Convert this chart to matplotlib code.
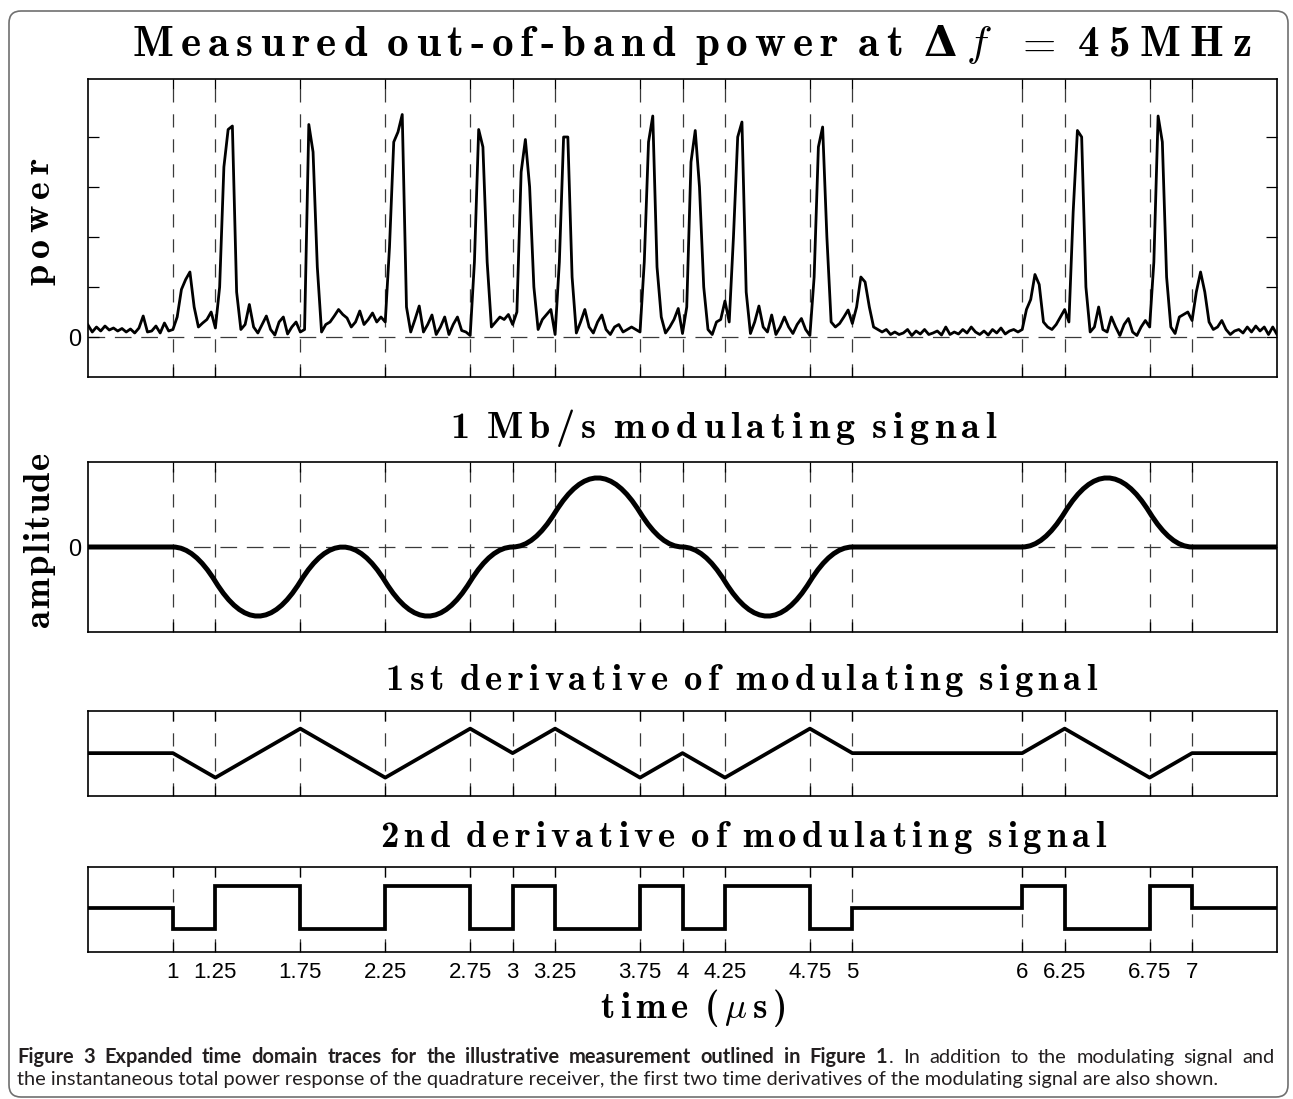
import numpy as np
import matplotlib
matplotlib.use('Agg')
import matplotlib.pyplot as plt
from matplotlib.path import Path
from matplotlib.patches import PathPatch, FancyBboxPatch

plt.rcParams['font.family'] = ['Liberation Sans', 'DejaVu Sans']
plt.rcParams['mathtext.fontset'] = 'cm'
plt.rcParams['lines.scale_dashes'] = False

W, H = 1293, 1099

# measured out-of-band power, sampled every 0.025 us from 0.5 to 7.5 us
t_start, t_step = 0.5, 0.025
power = [
    0.24, 0.10, 0.20, 0.12, 0.22, 0.14, 0.18, 0.12, 0.17, 0.10,   # 0.50
    0.16, 0.08, 0.18, 0.42, 0.10, 0.12, 0.22, 0.08, 0.28, 0.12,   # 0.75
    0.15, 0.40, 0.95, 1.15, 1.30, 0.60, 0.20, 0.28, 0.35, 0.50,   # 1.00
    0.18, 1.00, 3.40, 4.15, 4.22, 0.90, 0.15, 0.25, 0.65, 0.20,   # 1.25
    0.08, 0.25, 0.42, 0.15, 0.04, 0.30, 0.40, 0.06, 0.20, 0.30,   # 1.50
    0.10, 0.15, 4.25, 3.70, 1.40, 0.10, 0.25, 0.30, 0.42, 0.55,   # 1.75
    0.45, 0.38, 0.20, 0.30, 0.52, 0.25, 0.35, 0.48, 0.30, 0.40,   # 2.00
    0.30, 1.80, 3.90, 4.10, 4.45, 0.60, 0.10, 0.35, 0.62, 0.10,   # 2.25
    0.25, 0.44, 0.05, 0.20, 0.40, 0.05, 0.25, 0.40, 0.13, 0.10,   # 2.50
    0.03, 1.50, 4.15, 3.80, 1.50, 0.20, 0.30, 0.40, 0.35, 0.45,   # 2.75
    0.25, 0.50, 3.30, 3.95, 3.00, 1.00, 0.15, 0.35, 0.45, 0.55,   # 3.00
    0.05, 1.50, 4.00, 4.00, 1.20, 0.08, 0.30, 0.55, 0.20, 0.08,   # 3.25
    0.30, 0.44, 0.15, 0.05, 0.20, 0.25, 0.10, 0.15, 0.20, 0.15,   # 3.50
    0.10, 1.50, 3.90, 4.42, 1.40, 0.40, 0.08, 0.20, 0.35, 0.57,   # 3.75
    0.07, 0.60, 3.50, 4.13, 3.00, 1.00, 0.15, 0.05, 0.30, 0.35,   # 4.00
    0.72, 0.30, 2.00, 4.00, 4.30, 0.90, 0.07, 0.30, 0.62, 0.20,   # 4.25
    0.10, 0.44, 0.05, 0.20, 0.40, 0.20, 0.07, 0.25, 0.37, 0.15,   # 4.50
    0.03, 1.20, 3.80, 4.20, 2.00, 0.30, 0.20, 0.27, 0.40, 0.54,   # 4.75
    0.27, 0.60, 1.20, 1.10, 0.60, 0.20, 0.15, 0.10, 0.15, 0.05,   # 5.00
    0.10, 0.05, 0.08, 0.15, 0.03, 0.12, 0.06, 0.15, 0.05, 0.08,   # 5.25
    0.12, 0.04, 0.20, 0.05, 0.10, 0.06, 0.15, 0.08, 0.20, 0.10,   # 5.50
    0.05, 0.12, 0.04, 0.15, 0.08, 0.18, 0.06, 0.12, 0.15, 0.10,   # 5.75
    0.15, 0.55, 0.75, 1.25, 1.05, 0.30, 0.20, 0.15, 0.25, 0.40,   # 6.00
    0.55, 0.30, 2.50, 4.13, 4.00, 1.00, 0.10, 0.20, 0.60, 0.15,   # 6.25
    0.10, 0.40, 0.20, 0.03, 0.25, 0.37, 0.10, 0.03, 0.20, 0.33,   # 6.50
    0.20, 1.50, 4.42, 3.90, 1.20, 0.20, 0.07, 0.40, 0.45, 0.50,   # 6.75
    0.33, 0.90, 1.30, 0.90, 0.30, 0.15, 0.20, 0.33, 0.15, 0.05,   # 7.00
    0.12, 0.15, 0.08, 0.20, 0.10, 0.22, 0.12, 0.20, 0.05, 0.20, 0.05,  # 7.25
]

# modulating signal: knots (us), value and slope at each knot, curvature per segment
knots = [0.5, 1, 1.25, 1.75, 2.25, 2.75, 3, 3.25, 3.75, 4, 4.25, 4.75, 5, 6, 6.25, 6.75, 7, 7.5]
amp = [0, 0, -0.5, -0.5, -0.5, -0.5, 0, 0.5, 0.5, 0, -0.5, -0.5, 0, 0, 0.5, 0.5, 0, 0]
slope = [0, 0, -1, 1, -1, 1, 0, 1, -1, 0, -1, 1, 0, 0, 1, -1, 0, 0]
curv = [0, -1, 1, -1, 1, -1, 1, -1, 1, -1, 1, -1, 0, 1, -1, 1, 0]
amp_per_slope = 4.0   # amplitude units per us for one slope unit

grid_t = [1, 1.25, 1.75, 2.25, 2.75, 3, 3.25, 3.75, 4, 4.25, 4.75, 5, 6, 6.25, 6.75, 7]
grid_lbl = ['1', '1.25', '1.75', '2.25', '2.75', '3', '3.25', '3.75', '4', '4.25',
            '4.75', '5', '6', '6.25', '6.75', '7']

cap_bold = 'Figure 3 Expanded time domain traces for the illustrative measurement outlined in Figure 1'
cap_rest = 'In addition to the modulating signal and'
cap_line2 = ('the instantaneous total power response of the quadrature receiver, '
             'the first two time derivatives of the modulating signal are also shown.')

fig = plt.figure(figsize=(W / 100, H / 100), dpi=100)
rend = fig.canvas.get_renderer()


def panel(top, bottom):
    return fig.add_axes([88 / W, 1 - bottom / H, (1277 - 88) / W, (bottom - top) / H])


def style(ax, ylim, yt=()):
    ax.set_xlim(0.5, 7.5)
    ax.set_ylim(*ylim)
    ax.set_xticks(grid_t)
    ax.tick_params(axis='x', direction='in', top=True, length=7, width=0.9, labelbottom=False)
    ax.set_yticks(list(yt))
    ax.tick_params(axis='y', direction='in', right=True, length=8, width=0.9, labelsize=17, pad=5)
    for t in grid_t:
        ax.axvline(t, color='#3a3a3a', lw=0.9, ls=(0, (9.5, 8.5)), zorder=1)
    for s in ax.spines.values():
        s.set_linewidth(1.2)


ax1 = panel(79, 377)
ax2 = panel(462, 632)
ax3 = panel(711, 796)
ax4 = panel(867, 952)

# power
style(ax1, (-0.8, 5.16), [0, 1, 2, 3, 4])
ax1.set_yticklabels(['0', '', '', '', ''])
ax1.axhline(0, color='#3a3a3a', lw=0.9, ls=(0, (12, 7)), zorder=1)
t_power = t_start + t_step * np.arange(len(power))
ax1.plot(t_power, power, color='black', lw=2.0, zorder=3)

# modulating signal, drawn as quadratic pieces between knots
style(ax2, (-1.23, 1.23), [0])
ax2.set_yticklabels(['0'])
ax2.axhline(0, color='#3a3a3a', lw=0.9, ls=(0, (12, 7)), zorder=1)
verts = [(knots[0], amp[0])]
codes = [Path.MOVETO]
for i in range(len(knots) - 1):
    tc = (knots[i] + knots[i + 1]) / 2
    verts += [(tc, amp[i] + (tc - knots[i]) * amp_per_slope * slope[i]), (knots[i + 1], amp[i + 1])]
    codes += [Path.CURVE3, Path.CURVE3]
ax2.add_patch(PathPatch(Path(verts, codes), fill=False, ec='black', lw=3.6, zorder=3))

# 1st derivative
style(ax3, (-1.75, 1.72))
ax3.plot(knots, slope, color='black', lw=2.7, zorder=3)

# 2nd derivative
style(ax4, (-2.05, 1.9))
ax4.stairs(curv, knots, baseline=None, color='black', lw=2.7, zorder=3)
ax4.tick_params(axis='x', labelbottom=True, labelsize=16, pad=7)
ax4.set_xticklabels(grid_lbl)


def spaced(tokens, start, end, base, size, vertical=False):
    # letter-spaced bold serif text fitted between start and end (pixels)
    items = []
    word = False
    for tok in tokens:
        if tok == ' ':
            word = True
            continue
        extra = {}
        if isinstance(tok, tuple):
            tok, extra = tok
        txt = fig.text(0, 0, tok, fontsize=size, family='cmb10', color='black',
                       rotation=90 if vertical else 0, rotation_mode='anchor',
                       ha='left', va='baseline', transform=None, **extra)
        bb = txt.get_window_extent(rend)
        items.append((txt, bb.height if vertical else bb.width, word))
        word = False
    sp = 0.3 * size * 100 / 72
    free = abs(end - start) - sum(w for _, w, _ in items) - sp * sum(s for _, _, s in items)
    gap = free / (len(items) - 1)
    pos = start
    for i, (txt, w, s) in enumerate(items):
        if i:
            pos += gap + (sp if s else 0)
        txt.set_position((base, pos) if vertical else (pos, base))
        pos += w


spaced(list('Measured out-of-band power at'), 133, 903, H - 56, 31)
spaced([(r'$\mathbf{\Delta}$', {'math_fontfamily': 'dejavuserif'}), r'$f$', ' ', r'$=$', ' ',
        '4', '5', 'M', 'H', 'z'], 923, 1252, H - 56, 31)
spaced(list('1 Mb/s modulating signal'), 450, 996, H - 438, 27.5)
spaced(list('1st derivative of modulating signal'), 386, 1096, H - 690, 26.5)
spaced(list('2nd derivative of modulating signal'), 380, 1105, H - 847, 26.5)
spaced(list('time') + [' ', '(', r'$\mu$', 's', ')'], 600, 787, H - 1018, 26.5)
spaced(list('power'), H - 285, H - 158, 48.5, 27.5, vertical=True)
spaced(list('amplitude'), H - 627, H - 452, 49, 26.5, vertical=True)

# caption: second line sets the size, first line is justified to the frame
cap_kw = dict(family='Lato', color='#231f20', transform=None)
c3 = fig.text(17, H - 1085, cap_line2, fontsize=12, **cap_kw)
size = 12 * (1217 - 17) / c3.get_window_extent(rend).width
c3.set_fontsize(size)
words = [(w, 'bold') for w in cap_bold.split()] + [('.', 'normal')] + \
        [(w, 'normal') for w in cap_rest.split()]
arts = [fig.text(0, H - 1063, w, fontsize=size, weight=wt, **cap_kw) for w, wt in words]
widths = [a.get_window_extent(rend).width for a in arts]
gap = (1275 - 17 - sum(widths) - 1.5) / (len(arts) - 2)
x = 17
for i, (a, w) in enumerate(zip(arts, widths)):
    if i:
        x += 1.5 if words[i][0] == '.' else gap
    a.set_x(x)
    x += w

# rounded frame
fig.add_artist(FancyBboxPatch((9, 2), 1279, 1086, boxstyle='round,pad=0,rounding_size=12',
                              transform=None, fill=False, ec='#707070', lw=1.2))

fig.savefig('out.png', dpi=100)
